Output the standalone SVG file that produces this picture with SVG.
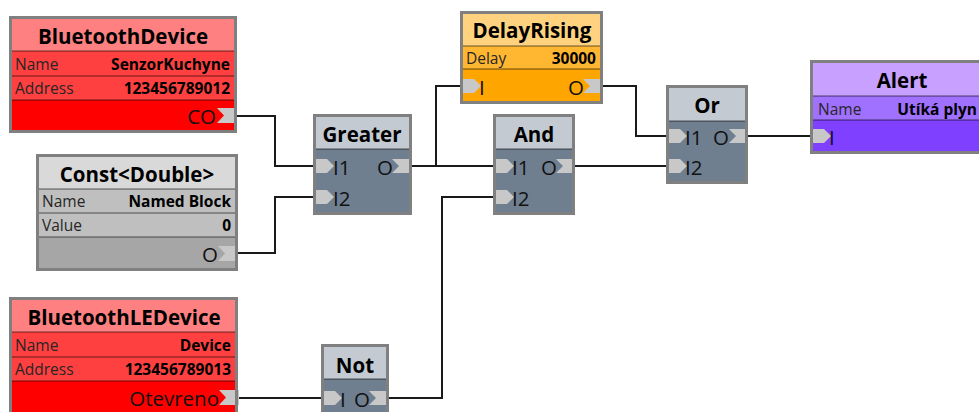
<svg xmlns="http://www.w3.org/2000/svg" width="979" height="412" viewBox="0 0 979 412">
<style>
text{font-family:"Open Sans","Noto Sans","DejaVu Sans",sans-serif;fill:#000}
.h{font-size:20.5px;font-weight:bold;text-anchor:middle;dominant-baseline:central}
.l{font-size:15.5px;fill:#262626;dominant-baseline:central}
.v{font-size:15.5px;font-weight:bold;text-anchor:end;dominant-baseline:central}
.p{font-size:20.5px;fill:#111;dominant-baseline:central}
.pe{font-size:20.5px;fill:#111;text-anchor:end;dominant-baseline:central}
.b{fill:none;stroke:#808080;stroke-width:3}
.s{stroke:#000;stroke-opacity:0.3;stroke-width:2}
.port{fill:#c8c8c8}
.gh{fill:#c3cad2}
.gb{fill:#6f7f90}
.w{fill:none;stroke:#1a1a1a;stroke-width:2}
</style>
<rect width="979" height="412" fill="#fff"/>
<g id="connectors">
<polyline class="w" points="236,116 275,116 275,166 314,166"/>
<polyline class="w" points="237,253 275,253 275,197 314,197"/>
<polyline class="w" points="411,166 494,166"/>
<polyline class="w" points="436,166 436,86 461,86"/>
<polyline class="w" points="238,398 322,398"/>
<polyline class="w" points="388,398 442,398 442,197 494,197"/>
<polyline class="w" points="602,86 636,86 636,136 667,136"/>
<polyline class="w" points="574,166 667,166"/>
<polyline class="w" points="747,136 811,136"/>
</g>
<g id="bluetoothDevice">
<rect x="10" y="17" width="226" height="115" fill="#ff0000"/>
<rect x="10" y="17" width="226" height="34" fill="#ff8080"/>
<rect x="10" y="51" width="226" height="49" fill="#ff4040"/>
<line class="s" x1="11" y1="51" x2="235" y2="51"/>
<line class="s" x1="11" y1="76" x2="235" y2="76"/>
<line class="s" x1="11" y1="100" x2="235" y2="100"/>
<text class="h" x="123" y="36">BluetoothDevice</text>
<text class="l" x="15" y="64">Name</text>
<text class="v" x="230" y="64">SenzorKuchyne</text>
<text class="l" x="15" y="88">Address</text>
<text class="v" x="230" y="88">123456789012</text>
<text class="pe" x="216" y="116">CO</text>
<polygon class="port" points="217,108 237,108 237,123 217,123 224,115.5"/>
<rect class="b" x="10.5" y="17.5" width="225" height="114"/>
</g>
<g id="constDouble">
<rect x="37" y="155" width="200" height="115" fill="#a6a6a6"/>
<rect x="37" y="155" width="200" height="34" fill="#d9d9d9"/>
<rect x="37" y="189" width="200" height="48" fill="#bfbfbf"/>
<line class="s" x1="38" y1="189" x2="236" y2="189"/>
<line class="s" x1="38" y1="213" x2="236" y2="213"/>
<line class="s" x1="38" y1="237" x2="236" y2="237"/>
<text class="h" x="137" y="174">Const&lt;Double&gt;</text>
<text class="l" x="42" y="201">Name</text>
<text class="v" x="231" y="201">Named Block</text>
<text class="l" x="42" y="225">Value</text>
<text class="v" x="231" y="225">0</text>
<text class="pe" x="218" y="254">O</text>
<polygon class="port" points="218,246 238,246 238,261 218,261 225,253.5"/>
<rect class="b" x="37.5" y="155.5" width="199" height="114"/>
</g>
<g id="bluetoothLEDevice">
<rect x="10" y="298" width="227" height="120" fill="#ff0000"/>
<rect x="10" y="298" width="227" height="34" fill="#ff8080"/>
<rect x="10" y="332" width="227" height="49" fill="#ff4040"/>
<line class="s" x1="11" y1="332" x2="236" y2="332"/>
<line class="s" x1="11" y1="357" x2="236" y2="357"/>
<line class="s" x1="11" y1="381" x2="236" y2="381"/>
<text class="h" x="124" y="317">BluetoothLEDevice</text>
<text class="l" x="15" y="345">Name</text>
<text class="v" x="231" y="345">Device</text>
<text class="l" x="15" y="369">Address</text>
<text class="v" x="231" y="369">123456789013</text>
<text class="pe" x="219" y="398">Otevreno</text>
<polygon class="port" points="219,390 239,390 239,405 219,405 226,397.5"/>
<rect class="b" x="10.5" y="298.5" width="226" height="120"/>
</g>
<g id="greater">
<rect x="314" y="115" width="97" height="99" class="gb"/>
<rect x="314" y="115" width="97" height="34" class="gh"/>
<line class="s" x1="315" y1="149" x2="410" y2="149"/>
<text class="h" x="362" y="134">Greater</text>
<polygon class="port" points="314,159 327,159 334,166 327,173 314,173"/>
<polygon class="port" points="314,190 327,190 334,197 327,204 314,204"/>
<text class="p" x="333" y="167">I1</text>
<text class="p" x="333" y="198">I2</text>
<text class="pe" x="393" y="167">O</text>
<polygon class="port" points="392,159 412,159 412,173 392,173 399,166"/>
<rect class="b" x="314.5" y="115.5" width="96" height="98"/>
</g>
<g id="and">
<rect x="494" y="115" width="80" height="99" class="gb"/>
<rect x="494" y="115" width="80" height="34" class="gh"/>
<line class="s" x1="495" y1="149" x2="573" y2="149"/>
<text class="h" x="534" y="134">And</text>
<polygon class="port" points="494,159 507,159 514,166 507,173 494,173"/>
<polygon class="port" points="494,190 507,190 514,197 507,204 494,204"/>
<text class="p" x="512" y="167">I1</text>
<text class="p" x="512" y="198">I2</text>
<text class="pe" x="557" y="167">O</text>
<polygon class="port" points="556,159 575,159 575,173 556,173 563,166"/>
<rect class="b" x="494.5" y="115.5" width="79" height="98"/>
</g>
<g id="or">
<rect x="667" y="86" width="80" height="97" class="gb"/>
<rect x="667" y="86" width="80" height="35" class="gh"/>
<line class="s" x1="668" y1="121" x2="746" y2="121"/>
<text class="h" x="707" y="105">Or</text>
<polygon class="port" points="667,129 680,129 687,136 680,143 667,143"/>
<polygon class="port" points="667,159 680,159 687,166 680,173 667,173"/>
<text class="p" x="685" y="137">I1</text>
<text class="p" x="685" y="167">I2</text>
<text class="pe" x="729" y="137">O</text>
<polygon class="port" points="729,129 748,129 748,143 729,143 736,136"/>
<rect class="b" x="667.5" y="86.5" width="79" height="96"/>
</g>
<g id="not">
<rect x="322" y="345" width="66" height="72" class="gb"/>
<rect x="322" y="345" width="66" height="34" class="gh"/>
<line class="s" x1="323" y1="379" x2="387" y2="379"/>
<text class="h" x="355" y="365">Not</text>
<polygon class="port" points="322,391 335,391 342,398 335,405 322,405"/>
<text class="p" x="340" y="399">I</text>
<text class="pe" x="370" y="399">O</text>
<polygon class="port" points="369,391 389,391 389,405 369,405 376,398"/>
<rect class="b" x="322.5" y="345.5" width="65" height="72"/>
</g>
<g id="delayRising">
<rect x="461" y="12" width="141" height="91" fill="#ffa500"/>
<rect x="461" y="12" width="141" height="34" fill="#ffd27f"/>
<rect x="461" y="46" width="141" height="23" fill="#ffb732"/>
<line class="s" x1="462" y1="46" x2="601" y2="46"/>
<line class="s" x1="462" y1="69" x2="601" y2="69"/>
<text class="h" x="532" y="30">DelayRising</text>
<text class="l" x="466" y="58">Delay</text>
<text class="v" x="596" y="58">30000</text>
<polygon class="port" points="461,79 474,79 481,86 474,93 461,93"/>
<text class="p" x="479" y="87">I</text>
<text class="pe" x="584" y="87">O</text>
<polygon class="port" points="583,79 603,79 603,93 583,93 590,86"/>
<rect class="b" x="461.5" y="12.5" width="140" height="90"/>
</g>
<g id="alert">
<rect x="811" y="61" width="185" height="92" fill="#8040ff"/>
<rect x="811" y="61" width="185" height="35" fill="#c8a0ff"/>
<rect x="811" y="96" width="185" height="24" fill="#a070ff"/>
<line class="s" x1="812" y1="96" x2="996" y2="96"/>
<line class="s" x1="812" y1="120" x2="996" y2="120"/>
<text class="h" x="902" y="80">Alert</text>
<text class="l" x="818" y="109">Name</text>
<text class="v" x="977" y="109">Utíká plyn</text>
<polygon class="port" points="811,129 824,129 831,136 824,143 811,143"/>
<text class="p" x="829" y="137">I</text>
<rect class="b" x="811.5" y="61.5" width="185" height="91"/>
</g>
</svg>
